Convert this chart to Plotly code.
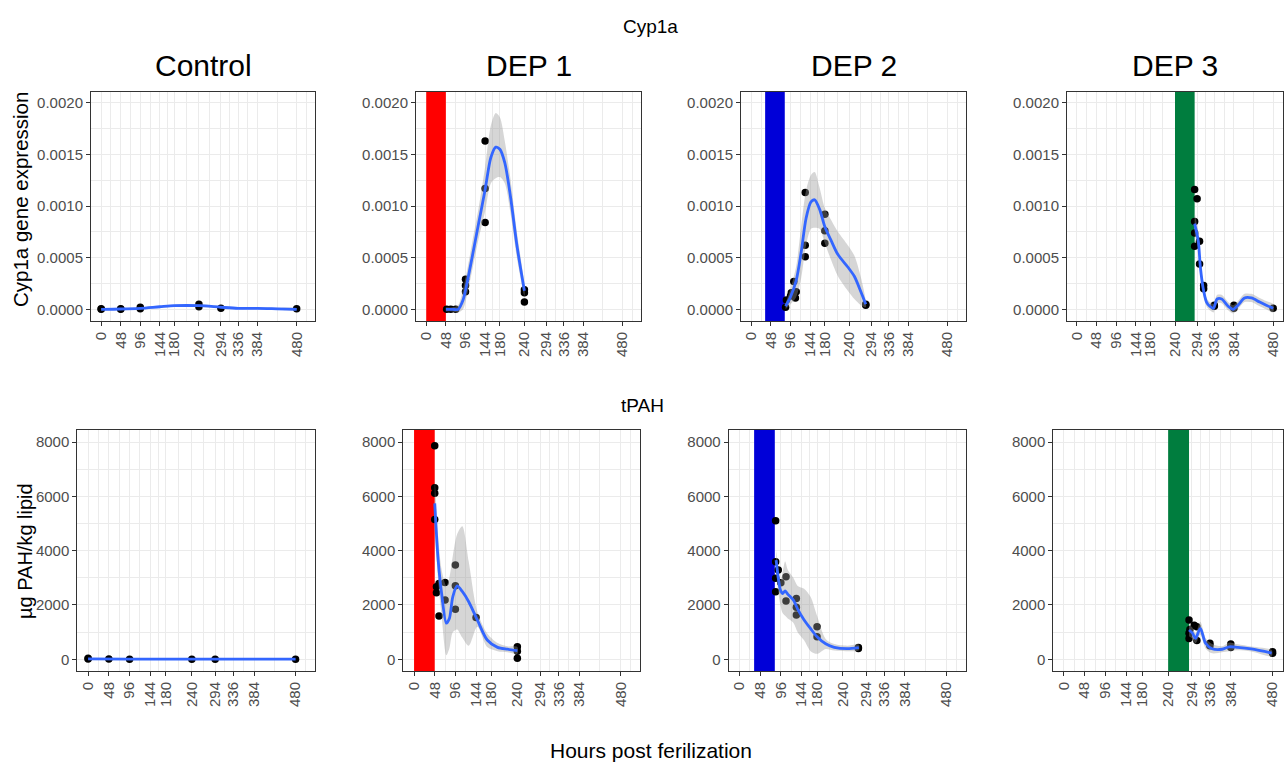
import plotly.graph_objects as go

# ---------------------------------------------------------------------------
# Observations: hours post fertilization (hpf) and measured values
# ---------------------------------------------------------------------------
x_breaks = [0, 48, 96, 144, 180, 240, 294, 336, 384, 480]
x_minor = [-24, 24, 72, 120, 162, 210, 267, 315, 360, 432, 504]

cyp_breaks = [0.0, 0.0005, 0.0010, 0.0015, 0.0020]
cyp_labels = ["0.0000", "0.0005", "0.0010", "0.0015", "0.0020"]
cyp_minor = [0.00025, 0.00075, 0.00125, 0.00175]

pah_breaks = [0, 2000, 4000, 6000, 8000]
pah_labels = ["0", "2000", "4000", "6000", "8000"]
pah_minor = [1000, 3000, 5000, 7000]

group_names = ["Control", "DEP 1", "DEP 2", "DEP 3"]
exposure_start = [None, 0, 34, 240]
exposure_end = [None, 48, 82, 288]
exposure_colors = [None, "#FF0000", "#0000D8", "#007D3E"]

# Cyp1a gene expression
cyp_ctrl_hpf = [0, 0, 48, 48, 96, 96, 240, 240, 294, 480]
cyp_ctrl_val = [0.0, 0.000005, 0.0, 0.000005, 0.00002, 0.000005, 0.00005, 0.000025, 0.00001, 0.000005]
cyp_dep1_hpf = [50, 60, 72, 96, 96, 96, 144, 144, 144, 240, 240, 240]
cyp_dep1_val = [0.0, 0.0, 0.0, 0.00029, 0.00023, 0.00017, 0.00163, 0.00117, 0.00084, 0.00019, 0.00016, 0.00007]
cyp_dep2_hpf = [84, 86, 96, 98, 104, 108, 110, 132, 132, 132, 180, 180, 180, 280, 280]
cyp_dep2_val = [0.00002, 0.00009, 0.00013, 0.00016, 0.00027, 0.00011, 0.00017, 0.00113, 0.00062, 0.00051, 0.00092, 0.00076, 0.00064, 0.00004, 0.00005]
cyp_dep3_hpf = [288, 288, 288, 288, 294, 300, 300, 310, 310, 336, 336, 384, 384, 480]
cyp_dep3_val = [0.00116, 0.00085, 0.00074, 0.00061, 0.00107, 0.00066, 0.00044, 0.00023, 0.00020, 0.00004, 0.00003, 0.00004, 0.00001, 0.00001]

# Cyp1a smoothed trend with confidence band
cyp_ctrl_fit_hpf = [0, 48, 96, 144, 180, 240, 294, 336, 384, 432, 480]
cyp_ctrl_fit = [0.0, 0.000003, 0.00001, 0.000025, 0.000035, 0.000035, 0.00002, 0.00001, 0.00001, 0.000005, 0.0]
cyp_ctrl_lo = [-0.00001, -0.000005, 0.0, 0.000015, 0.000025, 0.000022, 0.00001, 0.0, 0.0, -0.000005, -0.00001]
cyp_ctrl_hi = [0.00001, 0.00001, 0.00002, 0.000035, 0.000045, 0.000048, 0.00003, 0.00002, 0.00002, 0.000015, 0.00001]

cyp_dep1_fit_hpf = [48, 64, 78, 90, 100, 112, 128, 144, 158, 170, 180, 192, 206, 222, 240]
cyp_dep1_fit = [0.0, 0.0, 0.0, 0.00009, 0.00026, 0.0005, 0.00083, 0.00116, 0.00147, 0.00157, 0.00155, 0.00142, 0.00109, 0.00061, 0.00018]
cyp_dep1_lo = [-0.00002, -0.00002, -0.00003, 0.0, 0.00014, 0.00037, 0.00068, 0.00095, 0.00122, 0.00127, 0.00128, 0.00122, 0.00093, 0.00049, 0.00013]
cyp_dep1_hi = [0.00002, 0.00002, 0.00004, 0.0002, 0.00038, 0.00064, 0.00098, 0.00138, 0.00178, 0.0019, 0.00186, 0.00163, 0.00126, 0.00074, 0.00023]

cyp_dep2_fit_hpf = [84, 96, 110, 122, 134, 146, 155, 167, 180, 196, 212, 236, 252, 268, 280]
cyp_dep2_fit = [0.00003, 0.00012, 0.00028, 0.00055, 0.00088, 0.00104, 0.00106, 0.00097, 0.0008, 0.00066, 0.00053, 0.00041, 0.00032, 0.00017, 0.00005]
cyp_dep2_lo = [0.0, 0.00005, 0.00012, 0.0003, 0.00062, 0.00078, 0.00079, 0.00078, 0.00064, 0.00047, 0.00032, 0.00018, 0.0001, 0.00004, 0.00002]
cyp_dep2_hi = [0.00006, 0.0002, 0.00042, 0.0008, 0.00115, 0.0013, 0.00133, 0.00118, 0.00098, 0.00086, 0.00075, 0.00062, 0.00052, 0.00031, 0.00008]

cyp_dep3_fit_hpf = [288, 297, 302, 309, 317, 325, 334, 343, 354, 370, 382, 394, 410, 427, 447, 463, 480]
cyp_dep3_fit = [0.00083, 0.00066, 0.00041, 0.0002, 0.00007, 0.00003, 0.00001, 0.0001, 0.0001, 0.00003, 0.0, 0.00004, 0.00011, 0.00011, 0.00007, 0.00004, 0.00001]
cyp_dep3_lo = [0.00072, 0.00058, 0.00034, 0.00015, 0.00003, -0.00001, -0.00003, 0.00006, 0.00006, -0.00001, -0.00004, 0.0, 0.00007, 0.00007, 0.00003, 0.0, -0.00003]
cyp_dep3_hi = [0.00094, 0.00074, 0.00048, 0.00025, 0.00011, 0.00007, 0.00005, 0.00014, 0.00014, 0.00007, 0.00004, 0.00008, 0.00015, 0.00015, 0.00011, 0.00008, 0.00005]

# Total PAH body burden
pah_ctrl_hpf = [0, 0, 48, 96, 240, 294, 480]
pah_ctrl_val = [40, 15, 10, 5, 5, 5, 5]
pah_dep1_hpf = [48, 48, 48, 48, 52, 52, 58, 58, 72, 72, 96, 96, 96, 144, 240, 240, 240]
pah_dep1_val = [7860, 6320, 6110, 5150, 2670, 2450, 2790, 1590, 2830, 2180, 3470, 2710, 1840, 1540, 460, 300, 35]
pah_dep2_hpf = [84, 84, 84, 84, 90, 96, 108, 108, 132, 132, 132, 180, 180, 276, 276]
pah_dep2_val = [5100, 3590, 2980, 2490, 3290, 2820, 3040, 2150, 2240, 1920, 1630, 1200, 830, 430, 400]
pah_dep3_hpf = [288, 288, 288, 290, 300, 306, 306, 336, 336, 384, 384, 480, 480]
pah_dep3_val = [1450, 960, 770, 1100, 1250, 1200, 690, 590, 500, 560, 430, 220, 280]

# PAH smoothed trend with confidence band
pah_ctrl_fit_hpf = [0, 96, 240, 294, 480]
pah_ctrl_fit = [15, 8, 5, 5, 5]
pah_ctrl_lo = [0, 0, 0, 0, 0]
pah_ctrl_hi = [30, 16, 10, 10, 10]

pah_dep1_fit_hpf = [48, 51, 56, 64, 75, 82, 90, 100, 112, 127, 147, 170, 194, 217, 240]
pah_dep1_fit = [5740, 4880, 3650, 2430, 1330, 1500, 2300, 2700, 2500, 2120, 1450, 710, 440, 370, 320]
pah_dep1_lo = [4800, 4000, 2900, 1600, 150, 400, 1000, 1100, 800, 500, 1200, 450, 300, 260, 200]
pah_dep1_hi = [6700, 5800, 4500, 3300, 2700, 3000, 3800, 4600, 4900, 3600, 1750, 950, 600, 480, 450]

pah_dep2_fit_hpf = [85, 90, 95, 100, 106, 112, 125, 135, 150, 165, 180, 200, 220, 250, 277]
pah_dep2_fit = [3650, 3000, 2550, 2420, 2520, 2400, 2180, 1850, 1450, 1130, 830, 570, 440, 390, 430]
pah_dep2_lo = [3300, 2500, 2000, 1700, 1600, 1500, 1350, 1000, 700, 300, 200, 380, 320, 300, 330]
pah_dep2_hi = [4000, 3400, 2900, 3200, 3600, 3300, 3000, 2700, 2600, 2300, 1600, 750, 560, 500, 540]

pah_dep3_fit_hpf = [288, 296, 303, 314, 326, 341, 364, 380, 400, 431, 478]
pah_dep3_fit = [1080, 960, 770, 1140, 590, 390, 370, 460, 440, 380, 230]
pah_dep3_lo = [850, 760, 580, 900, 400, 220, 260, 300, 330, 290, 120]
pah_dep3_hi = [1300, 1160, 960, 1380, 780, 560, 480, 620, 550, 470, 340]

# ---------------------------------------------------------------------------
W, H = 1284, 765
FONT = "Liberation Sans, Arial, sans-serif"
GRID = "#EBEBEB"
FRAME = "#333333"
TICKTXT = "#4D4D4D"
LINE_BLUE = "#3366FF"
BAND = "rgba(153,153,153,0.4)"


def px(x):
    return x / W


def py(y):
    return 1 - y / H


rows = [
    dict(
        obs=[(cyp_ctrl_hpf, cyp_ctrl_val), (cyp_dep1_hpf, cyp_dep1_val),
             (cyp_dep2_hpf, cyp_dep2_val), (cyp_dep3_hpf, cyp_dep3_val)],
        fit=[(cyp_ctrl_fit_hpf, cyp_ctrl_fit, cyp_ctrl_lo, cyp_ctrl_hi),
             (cyp_dep1_fit_hpf, cyp_dep1_fit, cyp_dep1_lo, cyp_dep1_hi),
             (cyp_dep2_fit_hpf, cyp_dep2_fit, cyp_dep2_lo, cyp_dep2_hi),
             (cyp_dep3_fit_hpf, cyp_dep3_fit, cyp_dep3_lo, cyp_dep3_hi)],
        xdom=[(91, 315), (416, 641), (741, 966), (1067, 1283)],
        ydom=(91.7, 321),
        yrange=[-0.000113, 0.002107],
        yticks=cyp_breaks, ylabels=cyp_labels, yminor=cyp_minor,
    ),
    dict(
        obs=[(pah_ctrl_hpf, pah_ctrl_val), (pah_dep1_hpf, pah_dep1_val),
             (pah_dep2_hpf, pah_dep2_val), (pah_dep3_hpf, pah_dep3_val)],
        fit=[(pah_ctrl_fit_hpf, pah_ctrl_fit, pah_ctrl_lo, pah_ctrl_hi),
             (pah_dep1_fit_hpf, pah_dep1_fit, pah_dep1_lo, pah_dep1_hi),
             (pah_dep2_fit_hpf, pah_dep2_fit, pah_dep2_lo, pah_dep2_hi),
             (pah_dep3_fit_hpf, pah_dep3_fit, pah_dep3_lo, pah_dep3_hi)],
        xdom=[(77.3, 315), (403.3, 640), (728.7, 965.7), (1053.3, 1283)],
        ydom=(430, 671),
        yrange=[-431, 8442],
        yticks=pah_breaks, ylabels=pah_labels, yminor=pah_minor,
    ),
]

x_ranges = [[-25, 525], [-25, 525], [-25, 525], [-24, 504]]

fig = go.Figure()
n = 0
for r, row in enumerate(rows):
    for g in range(4):
        n += 1
        sfx = "" if n == 1 else str(n)
        xa, ya = "x" + sfx, "y" + sfx

        ox, oy = row["obs"][g]
        fx, ff, flo, fhi = row["fit"][g]
        ylo, yhi = row["yrange"]

        # exposure window, spanning the full panel height
        if exposure_start[g] is not None:
            xs, xe = exposure_start[g], exposure_end[g]
            fig.add_trace(go.Scatter(
                x=[xs, xe, xe, xs, xs], y=[ylo, ylo, yhi, yhi, ylo],
                mode="lines", fill="toself",
                fillcolor=exposure_colors[g], line=dict(width=0),
                xaxis=xa, yaxis=ya, showlegend=False, hoverinfo="skip"))

        # observations
        fig.add_trace(go.Scatter(
            x=ox, y=oy, mode="markers", xaxis=xa, yaxis=ya,
            marker=dict(color="black", size=7.5), showlegend=False,
            hoverinfo="skip"))
        # confidence band
        fig.add_trace(go.Scatter(
            x=list(fx) + list(fx)[::-1], y=list(fhi) + list(flo)[::-1],
            mode="lines", fill="toself", fillcolor=BAND,
            line=dict(width=0, shape="spline", smoothing=0.8),
            xaxis=xa, yaxis=ya, showlegend=False, hoverinfo="skip"))
        # smoothed trend
        fig.add_trace(go.Scatter(
            x=fx, y=ff, mode="lines", xaxis=xa, yaxis=ya,
            line=dict(color=LINE_BLUE, width=2.8, shape="spline", smoothing=0.8),
            showlegend=False, hoverinfo="skip"))

        x0, x1 = row["xdom"][g]
        y0, y1 = row["ydom"]
        common = dict(
            ticks="outside", ticklen=4, tickwidth=1, tickcolor=FRAME,
            showgrid=True, gridcolor=GRID, gridwidth=1.2,
            zeroline=False, showline=True, mirror=True,
            linecolor=FRAME, linewidth=1,
            tickfont=dict(family=FONT, size=15, color=TICKTXT),
        )
        fig.layout["xaxis" + sfx] = dict(
            domain=[px(x0), px(x1)], range=x_ranges[g], anchor=ya,
            tickmode="array", tickvals=x_breaks,
            ticktext=[str(v) for v in x_breaks], tickangle=-90,
            minor=dict(tickvals=x_minor, showgrid=True, gridcolor=GRID,
                       gridwidth=0.6, ticks=""),
            **common)
        fig.layout["yaxis" + sfx] = dict(
            domain=[py(y1), py(y0)], range=row["yrange"], anchor=xa,
            tickmode="array", tickvals=row["yticks"], ticktext=row["ylabels"],
            minor=dict(tickvals=row["yminor"], showgrid=True, gridcolor=GRID,
                       gridwidth=0.6, ticks=""),
            **common)

annotations = []


def label(text, x, y, size, angle=0, color="black"):
    annotations.append(dict(
        text=text, x=px(x), y=py(y), xref="paper", yref="paper",
        xanchor="center", yanchor="middle", showarrow=False,
        textangle=angle, font=dict(family=FONT, size=size, color=color)))


label("Cyp1a", 650, 27, 19)
label("tPAH", 642, 405, 19)
for g, name in enumerate(group_names):
    x0, x1 = rows[0]["xdom"][g]
    label(name, (x0 + x1) / 2 if g < 3 else 1175, 65, 30)
label("Cyp1a gene expression", 21, 200, 20.5, angle=-90)
label("µg PAH/kg lipid", 25, 551, 20, angle=-90)
label("Hours post ferilization", 651, 750, 21)

fig.update_layout(
    width=W, height=H, margin=dict(l=0, r=0, t=0, b=0),
    paper_bgcolor="white", plot_bgcolor="white",
    annotations=annotations, showlegend=False,
    font=dict(family=FONT),
)

fig.write_html("out.html")
